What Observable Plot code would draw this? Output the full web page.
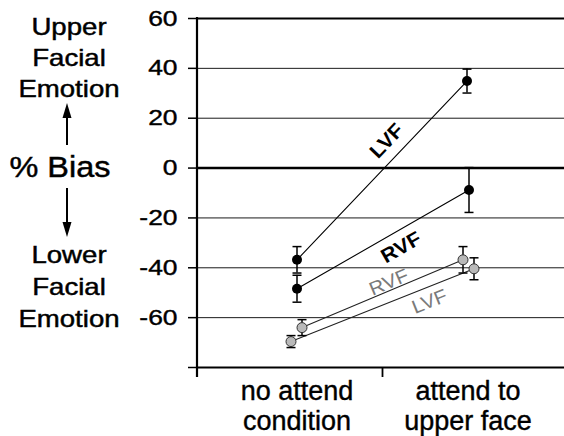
<!DOCTYPE html>
<html><head><meta charset="utf-8">
<script src="https://cdn.jsdelivr.net/npm/d3@7"></script>
<script src="https://cdn.jsdelivr.net/npm/@observablehq/plot@0.6"></script>
<style>
body{margin:0;background:#fff;}
#chart{width:564px;height:436px;}
svg{font-family:"Liberation Sans",Arial,Helvetica,sans-serif;background:#fff;}
</style></head><body><div id="chart"></div>
<script>
// ---- data ----
const conditions = ["no attend\ncondition", "attend to\nupper face"];
const seriesLabels = ["LVF", "RVF", "RVF", "LVF"];
const seriesGroups = ["black", "black", "gray", "gray"];
const lvfBlack = [-36.8, 34.9];
const lvfBlackErr = [5.3, 4.8];
const rvfBlack = [-48.4, -8.8];
const rvfBlackErr = [5.4, 9.0];
const rvfGray = [-64.0, -36.8];
const rvfGrayErr = [3.2, 5.3];
const lvfGray = [-69.6, -40.4];
const lvfGrayErr = [2.4, 4.4];
const yTicks = [60, 40, 20, 0, -20, -40, -60, -80];
const upperLabel = ["Upper", "Facial", "Emotion"];
const lowerLabel = ["Lower", "Facial", "Emotion"];
const biasLabel = "% Bias";

// ---- styling / layout ----
const xRange = [211, 553];
const pxPerUnit = (xRange[1] - xRange[0]) / 2;
const dodgePx = [[0, -1], [0, 1], [5, -5], [-6, 6]];
const labelPlace = [{t: 0.6, off: 17}, {t: 0.56, off: -16}, {t: 0.56, off: 8}, {t: 0.73, off: -14}];
const allValues = [lvfBlack, rvfBlack, rvfGray, lvfGray];
const allErr = [lvfBlackErr, rvfBlackErr, rvfGrayErr, lvfGrayErr];

const rows = [];
allValues.forEach((vals, s) => {
  vals.forEach((v, i) => {
    rows.push({key: s, group: seriesGroups[s], cond: i,
      x: i + 0.5 + dodgePx[s][i] / pxPerUnit, y: v,
      lo: v - allErr[s][i], hi: v + allErr[s][i]});
  });
});
const blackRows = rows.filter(d => d.group === "black");
const grayRows = rows.filter(d => d.group === "gray");
const capSymbol = {draw(ctx) { ctx.moveTo(-4.5, 0); ctx.lineTo(4.5, 0); }};

const plot = Plot.plot({
  width: 564, height: 436,
  marginLeft: 197, marginRight: 0, marginTop: 18, marginBottom: 69,
  x: {domain: [0, 2], range: xRange, axis: null},
  y: {domain: [-80, 60], axis: null},
  style: {fontFamily: '"Liberation Sans",Arial,sans-serif', background: "#fff", color: "#000"},
  marks: [
    Plot.ruleY([40, 20, -20, -40, -60], {stroke: "#1a1a1a", strokeWidth: 1}),
    Plot.ruleY([60, -80], {stroke: "#000", strokeWidth: 2}),
    Plot.ruleY([0], {stroke: "#000", strokeWidth: 2.5}),
    Plot.axisY({ticks: yTicks, tickSize: 9, tickPadding: 11, fontSize: 22, strokeWidth: 1.5,
      tickFormat: d => d === -80 ? "" : String(d), label: null}),
    Plot.axisX({ticks: [1], tickSize: 10, strokeWidth: 1.8, tickFormat: () => "", label: null}),
    Plot.line(blackRows, {x: "x", y: "y", z: "key", stroke: "#000", strokeWidth: 1.1}),
    Plot.line(grayRows, {x: "x", y: "y", z: "key", stroke: "#222", strokeWidth: 1.1}),
    Plot.ruleX(rows, {x: "x", y1: "lo", y2: "hi", stroke: "#000", strokeWidth: 1.5}),
    Plot.dot(rows, {x: "x", y: "lo", symbol: capSymbol, fill: "none", stroke: "#000", strokeWidth: 1.5}),
    Plot.dot(rows, {x: "x", y: "hi", symbol: capSymbol, fill: "none", stroke: "#000", strokeWidth: 1.5}),
    Plot.dot(blackRows, {x: "x", y: "y", r: 5, fill: "#000", stroke: "none"}),
    Plot.dot(grayRows, {x: "x", y: "y", r: 5, fill: "#b9b9b9", stroke: "#333", strokeWidth: 1}),
    Plot.text(conditions, {x: (d, i) => i + 0.5, frameAnchor: "bottom", lineAnchor: "top",
      dy: 11, fontSize: 27, lineHeight: 1.11, fill: "#000", stroke: "#000", strokeWidth: 0.4})
  ]
});

document.getElementById("chart").appendChild(plot);
const svg = d3.select(plot);

// stretch y tick labels like the reference lettering
svg.selectAll('g[aria-label="y-axis tick label"] text').each(function () {
  const t = this.getAttribute("transform") || "";
  this.setAttribute("transform", t + " scale(1.2,1)");
  this.setAttribute("stroke", "#000");
  this.setAttribute("stroke-width", "0.4");
});

const sx = plot.scale("x"), sy = plot.scale("y");
const x0 = 197, yTop = sy.apply(60), yBot = sy.apply(-80);

// y axis line
svg.append("line").attr("x1", x0).attr("x2", x0).attr("y1", yTop - 1).attr("y2", yBot + 10)
  .attr("stroke", "#000").attr("stroke-width", 2.2);

// series labels placed along their lines
allValues.forEach((vals, s) => {
  const p0 = [sx.apply(rows.find(d => d.key === s && d.cond === 0).x), sy.apply(vals[0])];
  const p1 = [sx.apply(rows.find(d => d.key === s && d.cond === 1).x), sy.apply(vals[1])];
  const dx = p1[0] - p0[0], dy = p1[1] - p0[1], len = Math.hypot(dx, dy);
  const u = [dx / len, dy / len], n = [u[1], -u[0]];
  const {t, off} = labelPlace[s];
  const px = p0[0] + t * dx + off * n[0], py = p0[1] + t * dy + off * n[1];
  const ang = Math.atan2(dy, dx) * 180 / Math.PI;
  const black = seriesGroups[s] === "black";
  svg.append("text")
    .attr("transform", `translate(${px},${py}) rotate(${ang}) scale(1.08,1)`)
    .attr("text-anchor", "middle").attr("dy", "0.36em")
    .attr("font-size", black ? 20 : 19).attr("font-weight", black ? "bold" : "normal")
    .attr("fill", black ? "#000" : "#7a7a7a")
    .text(seriesLabels[s]);
});

// left annotation: "% Bias" with arrows
const g = svg.append("g").attr("fill", "#000").attr("stroke", "#000").attr("stroke-width", 0.45);
upperLabel.forEach((t, i) => g.append("text")
  .attr("transform", `translate(69,${35 + i * 31}) scale(1.2,1)`)
  .attr("text-anchor", "middle").attr("font-size", 23).text(t));
lowerLabel.forEach((t, i) => g.append("text")
  .attr("transform", `translate(69,${263 + i * 32}) scale(1.2,1)`)
  .attr("text-anchor", "middle").attr("font-size", 23).text(t));
g.append("text").attr("transform", "translate(60,177) scale(1.12,1)")
  .attr("text-anchor", "middle").attr("font-size", 29).text(biasLabel);
g.append("line").attr("x1", 67).attr("x2", 67).attr("y1", 145).attr("y2", 116)
  .attr("stroke-width", 2);
g.append("path").attr("d", "M67,103L62.5,118L71.5,118Z").attr("stroke", "none");
g.append("line").attr("x1", 67).attr("x2", 67).attr("y1", 188).attr("y2", 224)
  .attr("stroke-width", 2);
g.append("path").attr("d", "M67,237L62.5,222L71.5,222Z").attr("stroke", "none");
</script></body></html>
